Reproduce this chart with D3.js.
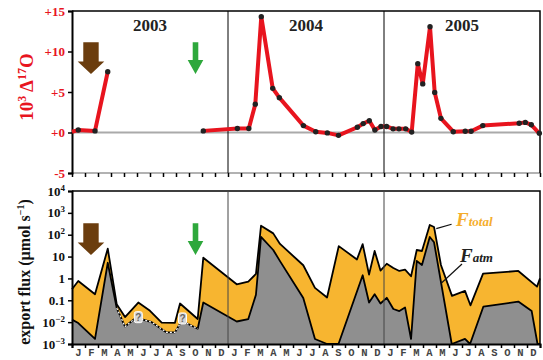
<!DOCTYPE html>
<html><head><meta charset="utf-8">
<script src="https://cdn.jsdelivr.net/npm/d3@7"></script>
<style>body{margin:0;background:#fff}</style>
</head><body>
<svg id="c" width="543" height="360"></svg>
<script>
// ---------- data ----------
const monthLabels = ["J","F","M","A","M","J","J","A","S","O","N","D"];
const years = ["2003","2004","2005"];
// time in months since 1 Jan 2003; null value = gap in record
const d17Months = [0,0.48,1.77,2.75, 6.5, 10.1,12.72,13.6,14.1,14.56,15.44,15.95,17.8,18.75,19.64,20.5,21.95,22.4,22.87,23.3,23.77,24.2,24.7,25.15,25.67,26.13,26.6,26.98,27.54,27.9,28.38,29.33,30.25,30.7,31.6,34.4,34.87,35.33,35.95];
const d17Values = [0.1,0.3,0.2,7.5, null, 0.2,0.5,0.5,3.5,14.3,5.45,4.3,0.85,0.1,-0.05,-0.35,0.65,1.1,1.45,0.3,0.75,0.75,0.45,0.45,0.45,0.05,8.5,6.0,13.05,4.95,1.75,0.1,0.15,0.15,0.85,1.15,1.25,0.95,-0.1];
const d17Dots = [false,true,true,true,false,true,true,true,true,true,true,true,true,true,true,true,true,true,true,true,true,true,true,true,true,true,true,true,true,true,true,true,true,true,true,true,true,true,true];
const d17Ticks = [15,10,5,0,-5];

const totalMonths = [0,0.48,1.77,2.75,3.44,4.08,5.1,6.0,6.9,7.92,8.31,9.67,10.1,12.67,13.56,14.15,14.54,15.48,16.0,17.79,18.69,19.62,20.52,21.92,22.36,22.85,23.28,23.73,24.21,24.72,25.18,25.62,26.08,26.52,26.92,27.52,27.85,28.38,29.23,30.23,30.65,31.62,34.33,35.77,36];
const totalFlux = [0.32,0.76,0.19,23,0.066,0.017,0.079,0.033,0.0095,0.0093,0.071,0.014,8.9,0.54,0.71,1.6,257,115,38,4.0,0.37,0.135,30,7.4,37,1.5,18,2.3,4.7,3.0,2.2,2.5,1.26,20,18,280,224,4.1,0.16,0.27,0.059,1.66,2.2,0.42,1.0];

const atmMonths = [0,0.48,1.77,2.75,3.44,4.08,4.92,6.13,7.28,7.92,8.44,9.67,10.1,12.67,13.56,14.15,14.54,15.48,16.0,17.79,18.69,19.62,20.5,22.36,22.85,23.28,23.73,24.21,24.72,25.18,25.62,26.08,26.52,26.92,27.52,27.85,29.21,30.23,30.62,31.64,34.33,35.36,35.81,36];
const atmFlux = [0.013,0.0091,0.0017,5.2,0.044,0.0063,0.016,0.01,0.0034,0.0034,0.0115,0.005,0.079,0.0107,0.0138,0.18,79,20,6.2,0.126,0.0017,0.001,0.001,1.4,0.079,0.19,0.071,0.13,0.04,0.032,0.047,0.0017,6.3,4.1,79,45,0.001,0.0017,0.001,0.051,0.087,0.032,0.001,0.001];
const atmEstimated = [3, 12]; // index range of estimated F_atm (dashed)
const questionMonths = [5.1, 8.5];
const questionFlux = [0.016, 0.014];

const fluxTicks = [1e4,1e3,1e2,10,1,0.1,1e-2,1e-3];
const fluxTickBase = ["10","10","10","10","1","0.1","10","10"];
const fluxTickExp  = ["4","3","2","","","","\u22122","\u22123"];

const arrowMonths = [1.46, 9.5];
const arrowColors = ["#6b3d0e", "#2ea83c"];

// ---------- layout ----------
const svg = d3.select("#c");
const L = 72, R = 540;
const x = d3.scaleLinear().domain([0,36]).range([L,R]);
const yTop = d3.scaleLinear().domain([-5,15]).range([173,11]);
const yBot = d3.scaleLog().domain([1e-3,1e4]).range([344,191]);
const serif = "'Liberation Serif','Times New Roman',serif";
const RED = "#e8141e";

// ===== TOP PANEL =====
svg.append("line").attr("x1",L).attr("x2",R).attr("y1",yTop(0)).attr("y2",yTop(0))
  .attr("stroke","#aaa").attr("stroke-width",2);
svg.append("line").attr("x1",L).attr("x2",R).attr("y1",173).attr("y2",173)
  .attr("stroke","#999").attr("stroke-width",1.5);
svg.append("path").attr("d",`M${L},11H${R}V173`).attr("fill","none").attr("stroke","#000").attr("stroke-width",1.5);
[12,24].forEach(m=>{
  svg.append("line").attr("x1",x(m)).attr("x2",x(m)).attr("y1",11).attr("y2",173).attr("stroke","#000").attr("stroke-width",1);
});
svg.append("g").attr("transform","translate(0,173)")
  .call(d3.axisBottom(x).tickValues(d3.range(0,37)).tickSize(4).tickFormat(""))
  .call(g=>g.select(".domain").remove())
  .call(g=>g.selectAll("line").attr("stroke","#000").attr("stroke-width",1.5));
const ga = svg.append("g").attr("transform",`translate(${L},0)`)
  .call(d3.axisLeft(yTop).tickValues(d17Ticks).tickSize(4).tickFormat(d=> d>=0 ? "+"+d : String(d)));
ga.select(".domain").attr("stroke","#000").attr("stroke-width",2);
ga.selectAll("line").attr("stroke","#000").attr("stroke-width",1.5);
ga.selectAll("text").attr("fill",RED).attr("font-family",serif).attr("font-weight","bold").attr("font-size",13).attr("x",-7);

years.forEach((yr,i)=>{
  svg.append("text").attr("x",x(i*12+6)).attr("y",31).attr("text-anchor","middle")
    .attr("font-family",serif).attr("font-weight","bold").attr("font-size",17).attr("fill","#222").text(yr);
});

const d17 = d17Months.map((m,i)=>({m, v:d17Values[i], dot:d17Dots[i]}));
svg.append("path").datum(d17)
  .attr("d", d3.line().defined(d=>d.v!==null).x(d=>x(d.m)).y(d=>yTop(d.v)))
  .attr("fill","none").attr("stroke",RED).attr("stroke-width",4).attr("stroke-linejoin","round");
svg.append("g").selectAll("circle").data(d17.filter(d=>d.v!==null && d.dot)).join("circle")
  .attr("cx",d=>x(d.m)).attr("cy",d=>yTop(d.v)).attr("r",2.7).attr("fill","#222");

const t1 = svg.append("text").attr("transform","translate(33,87) rotate(-90)").attr("text-anchor","middle")
  .attr("font-family",serif).attr("font-weight","bold").attr("font-size",19).attr("fill",RED);
t1.append("tspan").text("10");
t1.append("tspan").attr("dy",-7).attr("font-size",12).text("3");
t1.append("tspan").attr("dy",7).text(" \u0394");
t1.append("tspan").attr("dy",-7).attr("font-size",12).text("17");
t1.append("tspan").attr("dy",7).text("O");

function arrow(cx, ty, sw, hw, h, hh, col){
  svg.append("path").attr("d",`M${cx-sw},${ty}H${cx+sw}V${ty+h-hh}H${cx+hw}L${cx},${ty+h}L${cx-hw},${ty+h-hh}H${cx-sw}Z`).attr("fill",col);
}
arrow(x(arrowMonths[0]), 42.3, 7.7, 13.3, 31.7, 12.5, arrowColors[0]);
arrow(x(arrowMonths[1]), 42.3, 2.8, 7.8, 31.7, 14, arrowColors[1]);

// ===== BOTTOM PANEL =====
const tot = totalMonths.map((m,i)=>({m, v:totalFlux[i]}));
const atm = atmMonths.map((m,i)=>({m, v:atmFlux[i]}));
const area = d3.area().x(d=>x(d.m)).y0(yBot(1e-3)).y1(d=>yBot(d.v));
const line = d3.line().x(d=>x(d.m)).y(d=>yBot(d.v));
svg.append("path").datum(tot).attr("d",area).attr("fill","#f7b530");
svg.append("path").datum(atm).attr("d",area).attr("fill","#8f8f8f");
svg.append("path").datum(tot).attr("d",line).attr("fill","none").attr("stroke","#000").attr("stroke-width",1.8).attr("stroke-linejoin","round");
svg.append("path").datum(atm).attr("d",line).attr("fill","none").attr("stroke","#000").attr("stroke-width",1.8).attr("stroke-linejoin","round");
svg.append("path").datum(atm.slice(atmEstimated[0]+1, atmEstimated[1]))
  .attr("d",line).attr("fill","none").attr("stroke","#fff").attr("stroke-width",1.2).attr("stroke-dasharray","2,2");

questionMonths.forEach((m,i)=>{
  const cx = x(m), cy = yBot(questionFlux[i]);
  svg.append("rect").attr("x",cx-4).attr("y",cy-6).attr("width",8).attr("height",11).attr("rx",2)
    .attr("fill","#d8d8d8").attr("stroke","#fff").attr("stroke-width",1);
  svg.append("text").attr("x",cx).attr("y",cy+3.5).attr("text-anchor","middle")
    .attr("font-family","'Liberation Sans',Arial,sans-serif").attr("font-weight","bold").attr("font-size",10)
    .attr("fill","#666").text("?");
});

svg.append("path").attr("d",`M${L},191H${R}V344`).attr("fill","none").attr("stroke","#000").attr("stroke-width",1.5);
[12,24].forEach(m=>{
  svg.append("line").attr("x1",x(m)).attr("x2",x(m)).attr("y1",191).attr("y2",344).attr("stroke","#444").attr("stroke-width",1);
});
const gb = svg.append("g").attr("transform","translate(0,344)")
  .call(d3.axisBottom(x).tickValues(d3.range(0,37)).tickSize(4).tickFormat(""));
gb.select(".domain").attr("stroke","#000").attr("stroke-width",2);
gb.selectAll("line").attr("stroke","#000").attr("stroke-width",1.5);
svg.append("g").selectAll("text").data(d3.range(36)).join("text")
  .attr("x",d=>x(d+0.5)).attr("y",356).attr("text-anchor","middle")
  .attr("font-family","'Liberation Mono','Courier New',monospace").attr("font-weight","bold").attr("font-size",10.5)
  .attr("fill","#444").text(d=>monthLabels[d%12]);

const gl = svg.append("g").attr("transform",`translate(${L},0)`)
  .call(d3.axisLeft(yBot).tickValues(fluxTicks).tickSize(4).tickFormat(""));
gl.select(".domain").attr("stroke","#000").attr("stroke-width",2);
gl.selectAll("line").attr("stroke","#000").attr("stroke-width",1.5);
fluxTicks.forEach((t,i)=>{
  const tx = svg.append("text").attr("x",L-7).attr("y",yBot(t)+4.5).attr("text-anchor","end")
    .attr("font-family",serif).attr("font-weight","bold").attr("font-size",13).attr("fill","#111");
  tx.append("tspan").text(fluxTickBase[i]);
  if (fluxTickExp[i]) tx.append("tspan").attr("dy",-5).attr("font-size",9).text(fluxTickExp[i]);
});

const t2 = svg.append("text").attr("transform","translate(30,272) rotate(-90)").attr("text-anchor","middle")
  .attr("font-family",serif).attr("font-weight","bold").attr("font-size",16).attr("fill","#111");
t2.append("tspan").text("export flux (\u00b5mol s");
t2.append("tspan").attr("dy",-6).attr("font-size",10).text("\u22121");
t2.append("tspan").attr("dy",6).text(")");

arrow(x(arrowMonths[0]), 223.3, 7.7, 13.3, 31.7, 12.5, arrowColors[0]);
arrow(x(arrowMonths[1]), 223.3, 2.8, 7.8, 31.7, 14, arrowColors[1]);

const legends = [
  {name:"total", col:"#f5ad2c", lm:29.54, lv:250, s:[29.2,300], e:[28.02,190]},
  {name:"atm",   col:"#222",    lm:29.85, lv:5.8, s:[30.0,4.6], e:[28.38,0.59]}
];
legends.forEach(g=>{
  svg.append("line").attr("x1",x(g.s[0])).attr("y1",yBot(g.s[1])).attr("x2",x(g.e[0])).attr("y2",yBot(g.e[1]))
    .attr("stroke","#111").attr("stroke-width",1.2);
  const t = svg.append("text").attr("x",x(g.lm)).attr("y",yBot(g.lv)).attr("font-family",serif)
    .attr("font-style","italic").attr("font-weight","bold").attr("fill",g.col);
  t.append("tspan").attr("font-size",19).text("F");
  t.append("tspan").attr("font-size",13).text(g.name);
});
</script>
</body></html>
